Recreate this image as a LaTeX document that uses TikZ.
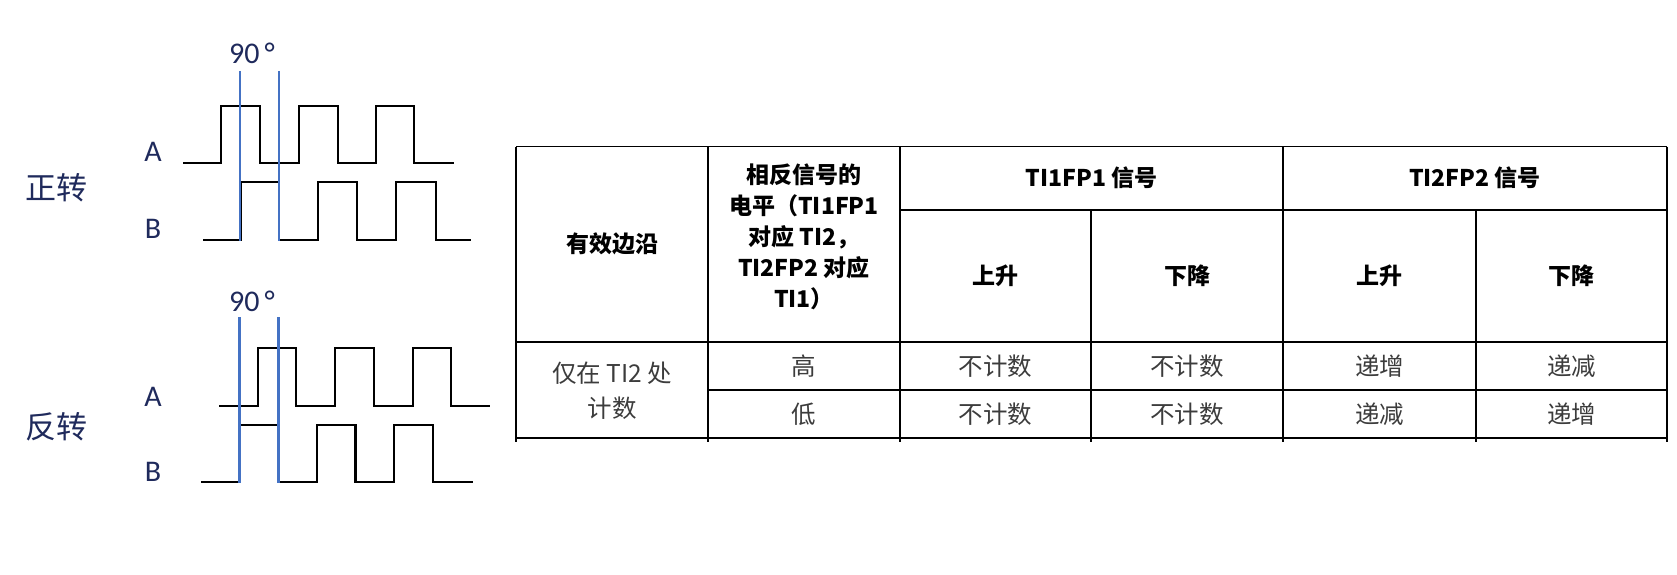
\documentclass[tikz,border=0pt]{standalone}
\usepackage{fontspec}
\usepackage{tikz}
\setmainfont{Carlito}
\newfontfamily\cjk{Noto Sans CJK SC}
\definecolor{navy}{RGB}{31,42,92}
\definecolor{phase}{RGB}{68,114,196}
\definecolor{cellgray}{RGB}{60,60,60}

\begin{document}
\begin{tikzpicture}[x=1pt, y=-1pt,
  wave/.style={line width=2.1pt, black, line join=miter},
  marker/.style={line width=2.2pt, phase},
  lbl/.style={text=navy, font=\fontsize{30}{32}\selectfont, inner sep=0pt},
  dir/.style={text=navy, font=\cjk\fontsize{31}{33}\selectfont, inner sep=0pt},
  head/.style={align=center, font=\cjk\bfseries\fontsize{23}{31}\selectfont, inner sep=0pt},
  body/.style={align=center, text=cellgray, font=\cjk\fontsize{24.5}{35}\selectfont, inner sep=0pt},
  tabline/.style={line width=1.7pt, black},
]
\useasboundingbox (0,0) rectangle (1677,575);

% FORWARD (top)
\node[dir] (fwd) at (56,188) {正转};
\node[lbl] (fwdA) at (153,152) {A};
\node[lbl] (fwdB) at (153,229) {B};
\node[lbl] (fwdDeg) at (252,53) {90\,°};
\draw[wave] (183,163) -- (221,163) -- (221,106) -- (260,106) -- (260,163)
  -- (299,163) -- (299,106) -- (338,106) -- (338,163)
  -- (376,163) -- (376,106) -- (414,106) -- (414,163) -- (454,163);
\draw[wave] (203,240) -- (241,240) -- (241,182) -- (279,182) -- (279,240)
  -- (318,240) -- (318,182) -- (357,182) -- (357,240)
  -- (396,240) -- (396,182) -- (436,182) -- (436,240) -- (471,240);
\draw[marker] (240,71) -- (240,241);
\draw[marker] (279,71) -- (279,241);

% REVERSE (bottom)
\node[dir] (rev) at (56,427) {反转};
\node[lbl] (revA) at (153,397) {A};
\node[lbl] (revB) at (153,472) {B};
\node[lbl] (revDeg) at (252,301) {90\,°};
\draw[wave] (219,406) -- (258,406) -- (258,348) -- (296,348) -- (296,406)
  -- (335,406) -- (335,348) -- (374,348) -- (374,406)
  -- (413,406) -- (413,348) -- (451,348) -- (451,406) -- (490,406);
\draw[wave] (201,482) -- (239.5,482) -- (239.5,425) -- (278,425) -- (278,482)
  -- (317,482) -- (317,425) -- (355.5,425) -- (355.5,482)
  -- (394,482) -- (394,425) -- (433,425) -- (433,482) -- (473,482);
\draw[marker] (239.5,317) -- (239.5,483);
\draw[marker] (278.5,317) -- (278.5,483);

% TABLE: header
\node[head] (edge) at (612,244) {有效边沿};
\node[head] (level) at (804,237) {相反信号的\\电平（TI1FP1\\对应 TI2，\\TI2FP2 对应\\TI1）};
\node[head] (ti1) at (1091.5,178) {TI1FP1 信号};
\node[head] (ti2) at (1475,178) {TI2FP2 信号};
\node[head] (ti1up) at (995.5,276) {上升};
\node[head] (ti1dn) at (1187,276) {下降};
\node[head] (ti2up) at (1379.5,276) {上升};
\node[head] (ti2dn) at (1571.5,276) {下降};

% TABLE: body
\node[body] (only) at (612,391) {仅在 TI2 处\\计数};
\node[body] (hi) at (804,366) {高};
\node[body] (lo) at (804,414) {低};
\node[body] (hi1up) at (995.5,366) {不计数};
\node[body] (hi1dn) at (1187,366) {不计数};
\node[body] (hi2up) at (1379.5,366) {递增};
\node[body] (hi2dn) at (1571.5,366) {递减};
\node[body] (lo1up) at (995.5,414) {不计数};
\node[body] (lo1dn) at (1187,414) {不计数};
\node[body] (lo2up) at (1379.5,414) {递减};
\node[body] (lo2dn) at (1571.5,414) {递增};

% TABLE: rules
\draw[tabline] (516,146.5) -- (1667,146.5);
\draw[tabline] (900,210) -- (1667,210);
\draw[tabline] (516,342) -- (1667,342);
\draw[tabline] (708,390) -- (1667,390);
\draw[tabline] (516,438) -- (1667,438);
\draw[tabline] (516,146.5) -- (516,442);
\draw[tabline] (708,146.5) -- (708,442);
\draw[tabline] (900,146.5) -- (900,442);
\draw[tabline] (1091,210) -- (1091,442);
\draw[tabline] (1283,146.5) -- (1283,442);
\draw[tabline] (1476,210) -- (1476,442);
\draw[tabline] (1667,146.5) -- (1667,442);
\end{tikzpicture}
\end{document}
